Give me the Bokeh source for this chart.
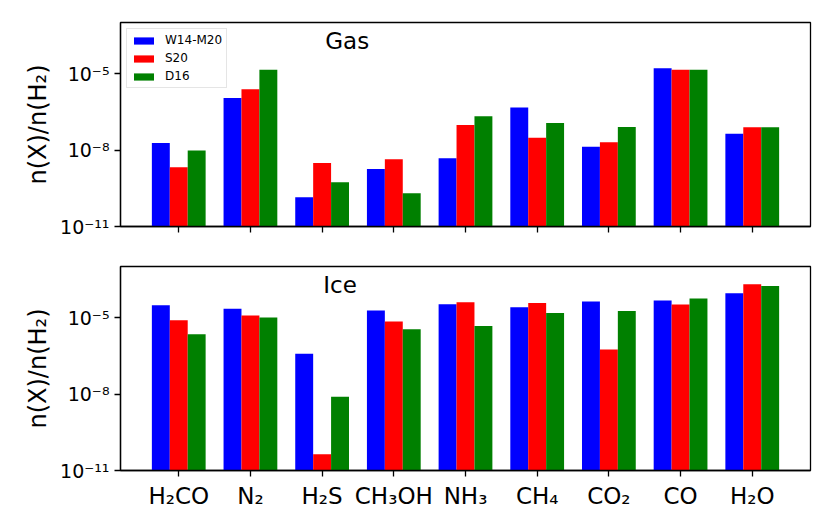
import numpy as np
from bokeh.plotting import figure
from bokeh.models import (ColumnDataSource, Range1d, FixedTicker, Legend,
                          LegendItem, Label)
from bokeh.transform import dodge
from bokeh.layouts import column
from bokeh.embed import file_html
from bokeh.resources import INLINE

species = ["H₂CO", "N₂", "H₂S", "CH₃OH", "NH₃", "CH₄", "CO₂", "CO", "H₂O"]
series = ["W14-M20", "S20", "D16"]
colors = ["blue", "red", "green"]

gas_w14 = [1.9e-8, 1.1e-6, 1.4e-10, 1.8e-9, 4.8e-9, 4.6e-7, 1.35e-8, 1.6e-5, 4.3e-8]
gas_s20 = [2.1e-9, 2.4e-6, 3.1e-9, 4.3e-9, 9.5e-8, 3.0e-8, 2.0e-8, 1.4e-5, 7.8e-8]
gas_d16 = [9.5e-9, 1.4e-5, 5.4e-10, 2.0e-10, 2.1e-7, 1.15e-7, 7.9e-8, 1.4e-5, 7.8e-8]

ice_w14 = [3.0e-5, 2.2e-5, 3.8e-7, 1.9e-5, 3.3e-5, 2.5e-5, 4.2e-5, 4.6e-5, 8.9e-5]
ice_s20 = [7.8e-6, 1.2e-5, 4.3e-11, 6.9e-6, 4.0e-5, 3.7e-5, 5.6e-7, 3.2e-5, 2.0e-4]
ice_d16 = [2.2e-6, 1.0e-5, 7.8e-9, 3.5e-6, 4.6e-6, 1.5e-5, 1.8e-5, 5.5e-5, 1.7e-4]

yticks = [1e-11, 1e-8, 1e-5]
ytick_labels = ["10⁻¹¹", "10⁻⁸", "10⁻⁵"]
ylabel = "n(X)/n(H₂)"
FONT = "DejaVu Sans"

W = 822
FRAME_H = 204


def make_panel(vals, title, title_x, show_xlabels, show_legend, h, top, bottom):
    idx = list(range(len(species)))
    src = ColumnDataSource(dict(x=idx, a=vals[0], b=vals[1], c=vals[2],
                                base=[1e-13] * len(idx)))
    p = figure(width=W, height=h, y_axis_type="log",
               x_range=Range1d(-0.8125, len(species) - 1 + 0.8125),
               y_range=Range1d(1e-11, 1e-3),
               output_backend="svg", toolbar_location=None,
               min_border_left=120, min_border_right=12,
               min_border_top=top, min_border_bottom=bottom)
    renderers = []
    for key, off, col in zip(["a", "b", "c"], [-0.25, 0.0, 0.25], colors):
        r = p.vbar(x=dodge("x", off), top=key, bottom="base", width=0.25,
                   source=src, fill_color=col, line_color=None)
        renderers.append(r)
    p.grid.visible = False
    p.outline_line_color = "black"
    p.outline_line_width = 1.3
    p.background_fill_color = "white"
    p.border_fill_color = "white"

    xa = p.xaxis[0]
    xa.ticker = FixedTicker(ticks=idx)
    xa.major_label_overrides = {i: (species[i] if show_xlabels else "") for i in idx}
    xa.major_tick_out = 6
    xa.major_tick_in = 0
    xa.minor_tick_line_color = None
    xa.axis_line_color = "black"
    xa.axis_line_width = 1.3
    xa.major_tick_line_width = 1.3
    xa.major_label_text_font = FONT
    xa.major_label_text_font_size = "23px" if show_xlabels else "1px"
    xa.major_label_text_color = "black"
    xa.major_label_standoff = 6

    ya = p.yaxis[0]
    ya.ticker = FixedTicker(ticks=yticks, minor_ticks=[])
    ya.major_label_overrides = dict(zip(yticks, ytick_labels))
    ya.major_tick_out = 6
    ya.major_tick_in = 0
    ya.minor_tick_line_color = None
    ya.axis_line_color = "black"
    ya.axis_line_width = 1.3
    ya.major_tick_line_width = 1.3
    ya.major_label_text_font = FONT
    ya.major_label_text_font_size = "19px"
    ya.major_label_text_color = "black"
    ya.major_label_standoff = 5
    ya.axis_label = ylabel
    ya.axis_label_text_font = FONT
    ya.axis_label_text_font_size = "24px"
    ya.axis_label_text_font_style = "normal"
    ya.axis_label_text_color = "black"
    ya.axis_label_standoff = 5

    p.add_layout(Label(x=title_x, y=FRAME_H - 18, y_units="screen", text=title,
                       text_font=FONT, text_font_size="23px",
                       text_align="center", text_baseline="middle",
                       text_color="black"))

    if show_legend:
        items = [LegendItem(label=s, renderers=[r]) for s, r in zip(series, renderers)]
        leg = Legend(items=items, location="top_left")
        leg.margin = 6
        leg.padding = 4
        leg.spacing = 4
        leg.label_height = 14
        leg.glyph_height = 9
        leg.glyph_width = 25
        leg.label_standoff = 9
        leg.label_text_font = FONT
        leg.label_text_font_size = "12px"
        leg.label_text_color = "black"
        leg.border_line_color = "#cccccc"
        leg.border_line_width = 1.2
        leg.background_fill_alpha = 0.8
        p.add_layout(leg)
    return p


p1 = make_panel([gas_w14, gas_s20, gas_d16], "Gas", 2.35, False, True,
                22 + FRAME_H + 20, 22, 20)
p2 = make_panel([ice_w14, ice_s20, ice_d16], "Ice", 2.25, True, False,
                20 + FRAME_H + 46, 20, 46)

layout = column(p1, p2, spacing=0)
open("out.html", "w").write(file_html(layout, INLINE))
